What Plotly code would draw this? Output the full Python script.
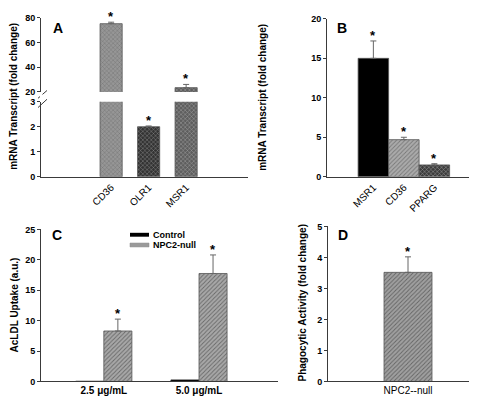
import plotly.graph_objects as go

W, H = 477, 396

# ---------------- data ----------------
a_genes = ["CD36", "OLR1", "MSR1"]
a_values = [75.3, 2.0, 23.5]
a_errors = [1.2, 0.03, 2.6]

b_genes = ["MSR1", "CD36", "PPARG"]
b_values = [15.0, 4.7, 1.5]
b_errors = [2.2, 0.3, 0.15]

c_doses = ["2.5 μg/mL", "5.0 μg/mL"]
c_series = ["Control", "NPC2-null"]
c_control = [0.03, 0.25]
c_npc2 = [8.3, 17.75]
c_npc2_err = [1.95, 3.05]

d_groups = ["NPC2--null"]
d_values = [3.52]
d_errors = [0.5]

# ---------------- helpers ----------------
def px_x(p):
    return p / W

def px_y(p):
    return 1 - p / H

FONT = "Liberation Sans"
AXC = "#3a3a3a"

err_style = dict(type="data", symmetric=False, color="#666666", thickness=1, width=3)

fig = go.Figure()

# Panel A
for xa, ya in (("x", "y"), ("x2", "y2")):
    fig.add_trace(go.Bar(
        x=a_genes, y=a_values, width=0.59,
        marker=dict(color=["#969696", "#333333", "#5e5e5e"],
                    pattern=dict(shape="x", fgcolor="#1a1a1a", size=3, solidity=0.25,
                                 fillmode="overlay"),
                    line=dict(color="#555555", width=0.8)),
        error_y=dict(err_style, array=a_errors, arrayminus=[0] * 3),
        xaxis=xa, yaxis=ya, showlegend=False))

# Panel B
fig.add_trace(go.Bar(
    x=b_genes, y=b_values, width=1.0,
    marker=dict(color=["#000000", "#ababab", "#3c3c3c"],
                pattern=dict(shape=["", "/", "x"], fgcolor="#1a1a1a", size=3, solidity=0.3,
                             fillmode="overlay"),
                line=dict(color="#555555", width=0.8)),
    error_y=dict(err_style, array=b_errors, arrayminus=[0] * 3),
    xaxis="x3", yaxis="y3", showlegend=False))

# Panel C
BW = 0.295
fig.add_trace(go.Bar(
    x=c_doses, y=c_control, width=BW, offset=-BW, name=c_series[0],
    marker=dict(color="#000000", line=dict(color="#222222", width=0.8)),
    xaxis="x4", yaxis="y4", showlegend=False))
fig.add_trace(go.Bar(
    x=c_doses, y=c_npc2, width=BW, offset=0, name=c_series[1],
    marker=dict(color="#a8a8a8",
                pattern=dict(shape="/", fgcolor="#2a2a2a", size=3, solidity=0.3, fillmode="overlay"),
                line=dict(color="#555555", width=0.8)),
    error_y=dict(err_style, array=c_npc2_err, arrayminus=[0, 0]),
    xaxis="x4", yaxis="y4", showlegend=False))

# Panel D
fig.add_trace(go.Bar(
    x=d_groups, y=d_values, width=0.48,
    marker=dict(color="#a0a0a0",
                pattern=dict(shape="/", fgcolor="#2a2a2a", size=3, solidity=0.3, fillmode="overlay"),
                line=dict(color="#555555", width=0.8)),
    error_y=dict(err_style, array=d_errors, arrayminus=[0]),
    xaxis="x5", yaxis="y5", showlegend=False))

tickf = dict(family=FONT, size=9, color="black", weight=700)
catf = dict(family=FONT, size=10, color="black")

def yax(dom, rng, dtick):
    return dict(domain=dom, range=rng, dtick=dtick, showline=True, linecolor=AXC, linewidth=1,
                ticks="outside", ticklen=3, tickcolor=AXC, tickfont=tickf, showgrid=False,
                zeroline=False, fixedrange=True)

def xax(dom, rng, anchor, font, angle=0, show=True):
    return dict(domain=dom, range=rng, anchor=anchor, type="category", showline=show,
                linecolor=AXC, linewidth=1, ticks="", tickfont=font, tickangle=angle,
                showgrid=False, zeroline=False, showticklabels=show, fixedrange=True)

fig.update_layout(
    width=W, height=H, margin=dict(l=0, r=0, t=0, b=0),
    paper_bgcolor="white", plot_bgcolor="white", barmode="overlay",
    xaxis=xax([px_x(33), px_x(240)], [-1.87, 3.65], "y", catf, -45),
    yaxis=yax([px_y(168), px_y(91)], [0, 3], 1),
    xaxis2=xax([px_x(33), px_x(240)], [-1.87, 3.65], "y2", catf, 0, False),
    yaxis2=dict(yax([px_y(81), px_y(5)], [20, 80], 20), anchor="x2"),
    xaxis3=xax([px_x(319), 1.0], [-1.52, 3.66], "y3", catf, -45),
    yaxis3=dict(yax([px_y(168), px_y(6)], [0, 20], 5), anchor="x3"),
    xaxis4=xax([px_x(33), px_x(270)], [-0.66, 1.83], "y4",
               dict(family=FONT, size=10, color="black", weight=700), 0),
    yaxis4=dict(yax([px_y(378), px_y(222)], [0, 25], 5), anchor="x4"),
    xaxis5=xax([px_x(320), 1.0], [-0.8, 0.77], "y5", catf, 0),
    yaxis5=dict(yax([px_y(378), px_y(219)], [0, 5], 1), anchor="x5"),
)

ann = []
ytf = dict(family=FONT, size=10, color="black", weight=700)
for x, y, t in ((6, 86, "mRNA Transcript (fold change)"),
                (255, 87, "mRNA Transcript (fold change)"),
                (6, 300, "AcLDL Uptake (a.u.)"),
                (294, 298, "Phagocytic Activity (fold change)")):
    ann.append(dict(x=px_x(x), y=px_y(y), xref="paper", yref="paper", text=t, textangle=-90,
                    showarrow=False, font=ytf, xanchor="center", yanchor="middle"))
lf = dict(family=FONT, size=14, color="black", weight=700)
for x, y, t in ((50, 15, "A"), (334, 15, "B"), (49, 228, "C"), (335, 228, "D")):
    ann.append(dict(x=px_x(x), y=px_y(y), xref="paper", yref="paper", text=t,
                    showarrow=False, font=lf, xanchor="center", yanchor="middle"))

sf = dict(family=FONT, size=13, color="black", weight=700)
def star(x, y, xr, yr, xs=0):
    ann.append(dict(x=x, y=y, xref=xr, yref=yr, text="*", showarrow=False, font=sf,
                    yanchor="bottom", yshift=-4, xshift=xs))

star(a_genes[0], a_values[0] + a_errors[0], "x2", "y2")
star(a_genes[2], a_values[2] + a_errors[2], "x2", "y2")
star(a_genes[1], a_values[1] + a_errors[1], "x", "y")
for g, v, e in zip(b_genes, b_values, b_errors):
    star(g, v + e, "x3", "y3")
for g, v, e in zip(c_doses, c_npc2, c_npc2_err):
    star(g, v + e, "x4", "y4", 14)
for g, v, e in zip(d_groups, d_values, d_errors):
    star(g, v + e, "x5", "y5")

legf = dict(family=FONT, size=9, color="black", weight=700)
for i, name in enumerate(c_series):
    ann.append(dict(x=px_x(143), y=px_y(227.5 + 10.5 * i), xref="paper", yref="paper", text=name,
                    showarrow=False, font=legf, xanchor="left", yanchor="middle"))

shapes = [
    dict(type="rect", xref="paper", yref="paper", x0=px_x(122), x1=px_x(141),
         y0=px_y(229.5), y1=px_y(225.5), fillcolor="black", line=dict(width=0)),
    dict(type="rect", xref="paper", yref="paper", x0=px_x(122), x1=px_x(141),
         y0=px_y(240), y1=px_y(236), fillcolor="#9a9a9a", line=dict(color="#888888", width=0.5)),
    dict(type="line", xref="paper", yref="paper", x0=px_x(30), y0=px_y(87.5), x1=px_x(39),
         y1=px_y(79.5), line=dict(color=AXC, width=1)),
    dict(type="line", xref="paper", yref="paper", x0=px_x(30), y0=px_y(97), x1=px_x(39),
         y1=px_y(88.5), line=dict(color=AXC, width=1)),
    dict(type="rect", xref="paper", yref="paper", x0=px_x(32), x1=px_x(34.5),
         y0=px_y(90.5), y1=px_y(81.5), fillcolor="white", line=dict(width=0)),
]

fig.update_layout(annotations=ann, shapes=shapes)
fig.write_html("out.html")
